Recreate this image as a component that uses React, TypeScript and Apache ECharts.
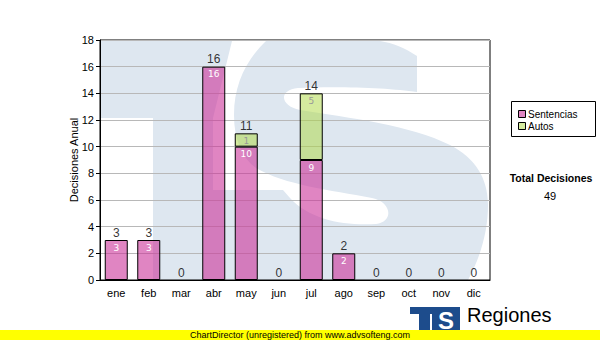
import React, { useEffect, useRef } from "react";
import * as echarts from "echarts";

// ---- data ----
const months = ["ene", "feb", "mar", "abr", "may", "jun", "jul", "ago", "sep", "oct", "nov", "dic"];
const sentencias = [3, 3, 0, 16, 10, 0, 9, 2, 0, 0, 0, 0];
const autos = [0, 0, 0, 0, 1, 0, 5, 0, 0, 0, 0, 0];
const totals = [3, 3, 0, 16, 11, 0, 14, 2, 0, 0, 0, 0];
const seriesNames = ["Sentencias", "Autos"];
const yAxisName = "Decisiones Anual";
const totalTitle = "Total Decisiones";
const totalValue = "49";
const footerText = "ChartDirector (unregistered) from www.advsofteng.com";
const brandTitle = "Regiones";
const brandSub = "Tribunal Supremo de Justicia";

// ---- watermark shapes ----
const GAP_D =
  "M 232 41 L 266 41 C 246 60 234 85 234 115 C 234 140 242 158 256 168 C 285 185 330 190 372 198 C 392 202 394 222 376 224 C 345 226 310 220 290 198 L 283 190 L 213 190 L 213 118 Z";
const RIGHT_D =
  "M 380 41 L 490 41 L 490 280 L 468 280 C 480 258 488 232 488 205 C 488 178 475 158 450 145 C 410 125 350 118 300 110 C 280 106 278 90 298 88 C 340 86 390 88 417 92 L 417 56 C 405 48 393 43 380 41 Z";
echarts.graphic.registerShape("wmGap", echarts.graphic.extendPath(GAP_D, {}));
echarts.graphic.registerShape("wmRight", echarts.graphic.extendPath(RIGHT_D, {}));

const PINK = "rgba(204,51,153,0.6)";
const GREEN = "rgba(172,216,62,0.5)";
const WM = "#dee7f0";
const LOGO = "#1d4c8c";
const SANS = "Liberation Sans";

const nonZero = (arr: number[]) => arr.map((v) => (v === 0 ? "-" : v));

export default function App() {
  const ref = useRef<HTMLDivElement>(null);
  useEffect(() => {
    if (!ref.current) return;
    const chart = echarts.init(ref.current, undefined, { renderer: "svg" });
    const hideZero = (p: any) => (p.value && p.value !== "-" ? String(p.value) : "");
    chart.setOption({
      animation: false,
      backgroundColor: "#fff",
      grid: { left: 100, right: 110, top: 40, bottom: 60, show: true, borderColor: "#000", borderWidth: 1, backgroundColor: "transparent" },
      xAxis: {
        type: "category",
        data: months,
        axisLine: { lineStyle: { color: "#000" } },
        axisTick: { alignWithLabel: true, length: 4, lineStyle: { color: "#000" } },
        axisLabel: { color: "#000", fontSize: 11, fontFamily: SANS, margin: 7 },
      },
      yAxis: {
        type: "value",
        min: 0,
        max: 18,
        interval: 2,
        name: yAxisName,
        nameLocation: "middle",
        nameGap: 21,
        nameMoveOverlap: false,
        nameTextStyle: { color: "#000", fontSize: 11, fontFamily: SANS },
        axisLine: { show: true, lineStyle: { color: "#000" } },
        axisTick: { show: true, length: 4, lineStyle: { color: "#000" } },
        axisLabel: { color: "#000", fontSize: 11, fontFamily: SANS, margin: 6 },
        splitLine: { lineStyle: { color: "#b8b8b8" } },
      },
      series: [
        {
          name: seriesNames[0],
          type: "bar",
          stack: "a",
          barWidth: 23,
          data: nonZero(sentencias),
          itemStyle: { color: PINK, borderColor: "#000", borderWidth: 1 },
          label: { show: true, position: "insideTop", distance: 3, color: "#fff", fontSize: 9, fontFamily: "DejaVu Sans", formatter: hideZero },
        },
        {
          name: seriesNames[1],
          type: "bar",
          stack: "a",
          barWidth: 23,
          data: nonZero(autos),
          itemStyle: { color: GREEN, borderColor: "#000", borderWidth: 1 },
          label: { show: true, position: "insideTop", distance: 3, color: "#999", fontSize: 9, fontFamily: "DejaVu Sans", formatter: hideZero },
        },
        {
          name: "total",
          type: "scatter",
          data: totals,
          symbolSize: 1,
          itemStyle: { color: "rgba(0,0,0,0)" },
          silent: true,
          label: { show: true, position: "top", distance: 1, color: "#000", fontSize: 12, fontFamily: SANS },
        },
      ],
      graphic: [
        { type: "rect", z: -10, silent: true, shape: { x: 101, y: 41, width: 389, height: 239 }, style: { fill: WM } },
        { type: "rect", z: -9, silent: true, shape: { x: 101, y: 118, width: 52, height: 162 }, style: { fill: "#fff" } },
        { type: "wmGap", z: -9, silent: true, style: { fill: "#fff" } },
        { type: "wmRight", z: -9, silent: true, style: { fill: "#fff" } },
        // legend
        { type: "rect", shape: { x: 511.5, y: 101.5, width: 84, height: 35 }, style: { fill: "#fff", stroke: "#000", lineWidth: 1 } },
        { type: "rect", shape: { x: 518.5, y: 110.5, width: 7, height: 7 }, style: { fill: PINK, stroke: "#000", lineWidth: 1 } },
        { type: "rect", shape: { x: 518.5, y: 122.5, width: 7, height: 7 }, style: { fill: GREEN, stroke: "#000", lineWidth: 1 } },
        { type: "text", x: 528, y: 114.5, style: { text: seriesNames[0], fill: "#000", font: `10px "${SANS}"`, verticalAlign: "middle", align: "left" } },
        { type: "text", x: 528, y: 126.5, style: { text: seriesNames[1], fill: "#000", font: `10px "${SANS}"`, verticalAlign: "middle", align: "left" } },
        { type: "text", x: 551, y: 178, style: { text: totalTitle, fill: "#000", font: `bold 10.5px "${SANS}"`, verticalAlign: "middle", align: "center" } },
        { type: "text", x: 550, y: 196, style: { text: totalValue, fill: "#000", font: `11px "${SANS}"`, verticalAlign: "middle", align: "center" } },
        // brand logo
        { type: "rect", shape: { x: 410, y: 307, width: 26, height: 7 }, style: { fill: LOGO } },
        { type: "rect", shape: { x: 419, y: 307, width: 11, height: 24 }, style: { fill: LOGO } },
        { type: "rect", shape: { x: 432, y: 307, width: 28, height: 24 }, style: { fill: LOGO } },
        { type: "text", x: 446, y: 320, style: { text: "S", fill: "#fff", font: `bold 24px "${SANS}"`, verticalAlign: "middle", align: "center" } },
        { type: "text", x: 467, y: 315, style: { text: brandTitle, fill: "#000", font: `20px "${SANS}"`, verticalAlign: "middle", align: "left" } },
        { type: "text", x: 468, y: 334, style: { text: brandSub, fill: "#000", font: `10px "${SANS}"`, verticalAlign: "middle", align: "left" } },
        // footer
        { type: "rect", z: 10, shape: { x: 0, y: 330, width: 600, height: 10 }, style: { fill: "#ffff00" } },
        { type: "text", z: 11, x: 190, y: 335, style: { text: footerText, fill: "#000", font: `9px "${SANS}"`, verticalAlign: "middle", align: "left" } },
      ],
    });
    return () => chart.dispose();
  }, []);
  return <div ref={ref} style={{ position: "fixed", left: 0, top: 0, width: 600, height: 340 }} />;
}
